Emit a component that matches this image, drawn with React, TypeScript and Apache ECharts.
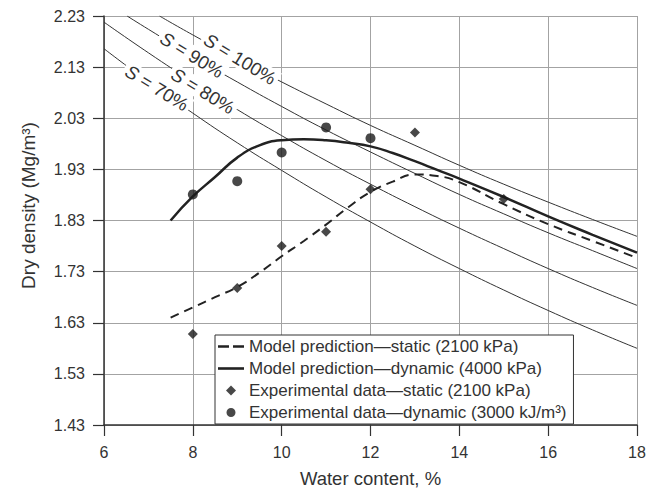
import React, { useEffect, useRef } from 'react';
import * as echarts from 'echarts';

const FONT = '"Liberation Sans", Arial, Helvetica, sans-serif';
const INK = '#333';

// Saturation lines (water content %, dry density Mg/m3)
const sat100: number[][] = [[7.25, 2.23], [8, 2.193], [9, 2.146], [10, 2.101], [11, 2.058], [12, 2.016], [13, 1.977], [14, 1.938], [15, 1.901], [16, 1.866], [17, 1.832], [18, 1.799]];
const sat90: number[][] = [[6.52, 2.23], [7, 2.204], [8, 2.151], [9, 2.101], [10, 2.053], [11, 2.007], [12, 1.964], [13, 1.922], [14, 1.881], [15, 1.843], [16, 1.806], [17, 1.771], [18, 1.736]];
const sat80: number[][] = [[6, 2.218], [7, 2.158], [8, 2.101], [9, 2.047], [10, 1.996], [11, 1.947], [12, 1.901], [13, 1.857], [14, 1.815], [15, 1.775], [16, 1.736], [17, 1.699], [18, 1.664]];
const sat70: number[][] = [[6, 2.166], [7, 2.101], [8, 2.040], [9, 1.982], [10, 1.928], [11, 1.876], [12, 1.827], [13, 1.780], [14, 1.736], [15, 1.694], [16, 1.654], [17, 1.616], [18, 1.580]];

// Model predictions
const modelX = [7.5, 8, 8.5, 9, 9.5, 10, 10.5, 11, 11.5, 12, 12.5, 13, 13.5, 14, 15, 16, 17, 18];
const modelStatic = [1.640, 1.660, 1.680, 1.700, 1.728, 1.760, 1.790, 1.822, 1.856, 1.886, 1.906, 1.920, 1.917, 1.905, 1.862, 1.823, 1.790, 1.757];
const modelDynamic = [1.830, 1.877, 1.915, 1.953, 1.977, 1.987, 1.989, 1.987, 1.982, 1.975, 1.962, 1.946, 1.929, 1.912, 1.876, 1.838, 1.802, 1.767];

// Experimental data
const expStaticX = [8, 9, 10, 11, 12, 13, 15];
const expStaticY = [1.608, 1.698, 1.780, 1.808, 1.891, 2.002, 1.872];
const expDynamicX = [8, 9, 10, 11, 12];
const expDynamicY = [1.881, 1.907, 1.963, 2.012, 1.991];

const seriesNames = [
  'Model prediction—static (2100 kPa)',
  'Model prediction—dynamic (4000 kPa)',
  'Experimental data—static (2100 kPa)',
  'Experimental data—dynamic (3000 kJ/m³)',
];

const satLabels = ['100%', '90%', '80%', '70%'];
const satLabelPos = [[240, 59], [192, 55], [203, 91], [157, 88]];

const zip = (xs: number[], ys: number[]) => xs.map((x, i) => [x, ys[i]]);

export default function App() {
  const ref = useRef<HTMLDivElement>(null);
  useEffect(() => {
    if (!ref.current) return;
    const chart = echarts.init(ref.current, undefined, { renderer: 'svg' });
    const satStyle = { color: INK, width: 1 };
    const satSeries = [sat100, sat90, sat80, sat70].map((d, i) => ({
      name: 'S' + i,
      type: 'line',
      data: d,
      smooth: true,
      symbol: 'none',
      lineStyle: satStyle,
      z: 2,
      silent: true,
    }));
    const option: any = {
      animation: false,
      grid: { left: 104, right: 12, top: 16, bottom: 65 },
      xAxis: {
        type: 'value', min: 6, max: 18, interval: 2,
        name: 'Water content, %', nameLocation: 'middle', nameGap: 44,
        nameTextStyle: { fontSize: 18.5, color: INK, fontFamily: FONT },
        axisLine: { onZero: false, lineStyle: { color: INK, width: 1.5 } },
        axisTick: { length: 11, lineStyle: { color: INK, width: 1.2 } },
        axisLabel: { margin: 19, fontSize: 16, color: INK, fontFamily: FONT },
        splitLine: { lineStyle: { color: '#a3a3a3', width: 1 } },
      },
      yAxis: {
        type: 'value', min: 1.43, max: 2.23, interval: 0.1,
        name: 'Dry density (Mg/m³)', nameLocation: 'middle', nameGap: 66,
        nameTextStyle: { fontSize: 19, color: INK, fontFamily: FONT, padding: [0, 0, 0, 30] },
        axisLine: { onZero: false, lineStyle: { color: INK, width: 1.5 } },
        axisTick: { length: 11, lineStyle: { color: INK, width: 1.2 } },
        axisLabel: { margin: 19, fontSize: 16, color: INK, fontFamily: FONT, formatter: (v: number) => v.toFixed(2) },
        splitLine: { lineStyle: { color: '#a3a3a3', width: 1 } },
      },
      legend: {
        orient: 'vertical', left: 215, top: 335,
        padding: [3, 7, 3, 3], itemGap: 5, itemWidth: 26, itemHeight: 16,
        borderColor: INK, borderWidth: 1, backgroundColor: '#fff',
        textStyle: { fontSize: 17, color: INK, fontFamily: FONT },
        data: [
          { name: seriesNames[0], icon: 'path://M0,0 M26,16 M0,6.7 h11 v2.6 h-11 Z M15,6.7 h11 v2.6 h-11 Z' },
          { name: seriesNames[1], icon: 'path://M0,0 M26,16 M0,6.7 h26 v2.6 h-26 Z' },
          { name: seriesNames[2], icon: 'path://M0,0 M26,16 M13,3 L18,8 L13,13 L8,8 Z' },
          { name: seriesNames[3], icon: 'path://M0,0 M26,16 M17.5,8 A4.5,4.5 0 1,1 8.5,8 A4.5,4.5 0 1,1 17.5,8 Z' },
        ],
      },
      graphic: satLabels.map((t, i) => ({
        type: 'text',
        x: satLabelPos[i][0], y: satLabelPos[i][1],
        rotation: -0.55,
        z: 10,
        style: {
          text: '{i|S} = ' + t,
          rich: { i: { fontStyle: 'italic', fontSize: 18.5, fontFamily: FONT, fill: INK } },
          fontSize: 18.5, fontFamily: FONT, fill: INK,
          align: 'center', verticalAlign: 'middle',
          backgroundColor: '#fff', padding: [0, 3],
        },
      })),
      series: [
        ...satSeries,
        {
          name: seriesNames[0], type: 'line', data: zip(modelX, modelStatic), smooth: true, symbol: 'none',
          lineStyle: { color: '#222', width: 2, type: [9, 6] }, itemStyle: { color: '#222' }, z: 3,
        },
        {
          name: seriesNames[1], type: 'line', data: zip(modelX, modelDynamic), smooth: true, symbol: 'none',
          lineStyle: { color: '#222', width: 2.5 }, itemStyle: { color: '#222' }, z: 3,
        },
        {
          name: seriesNames[2], type: 'scatter', data: zip(expStaticX, expStaticY), symbol: 'diamond', symbolSize: 10,
          itemStyle: { color: '#1a1a1a' }, z: 4,
        },
        {
          name: seriesNames[3], type: 'scatter', data: zip(expDynamicX, expDynamicY), symbol: 'circle', symbolSize: 10,
          itemStyle: { color: '#1a1a1a' }, z: 4,
        },
      ],
    };
    chart.setOption(option);
    return () => chart.dispose();
  }, []);
  return <div ref={ref} style={{ width: 649, height: 493, position: 'absolute', left: 0, top: 0 }} />;
}
